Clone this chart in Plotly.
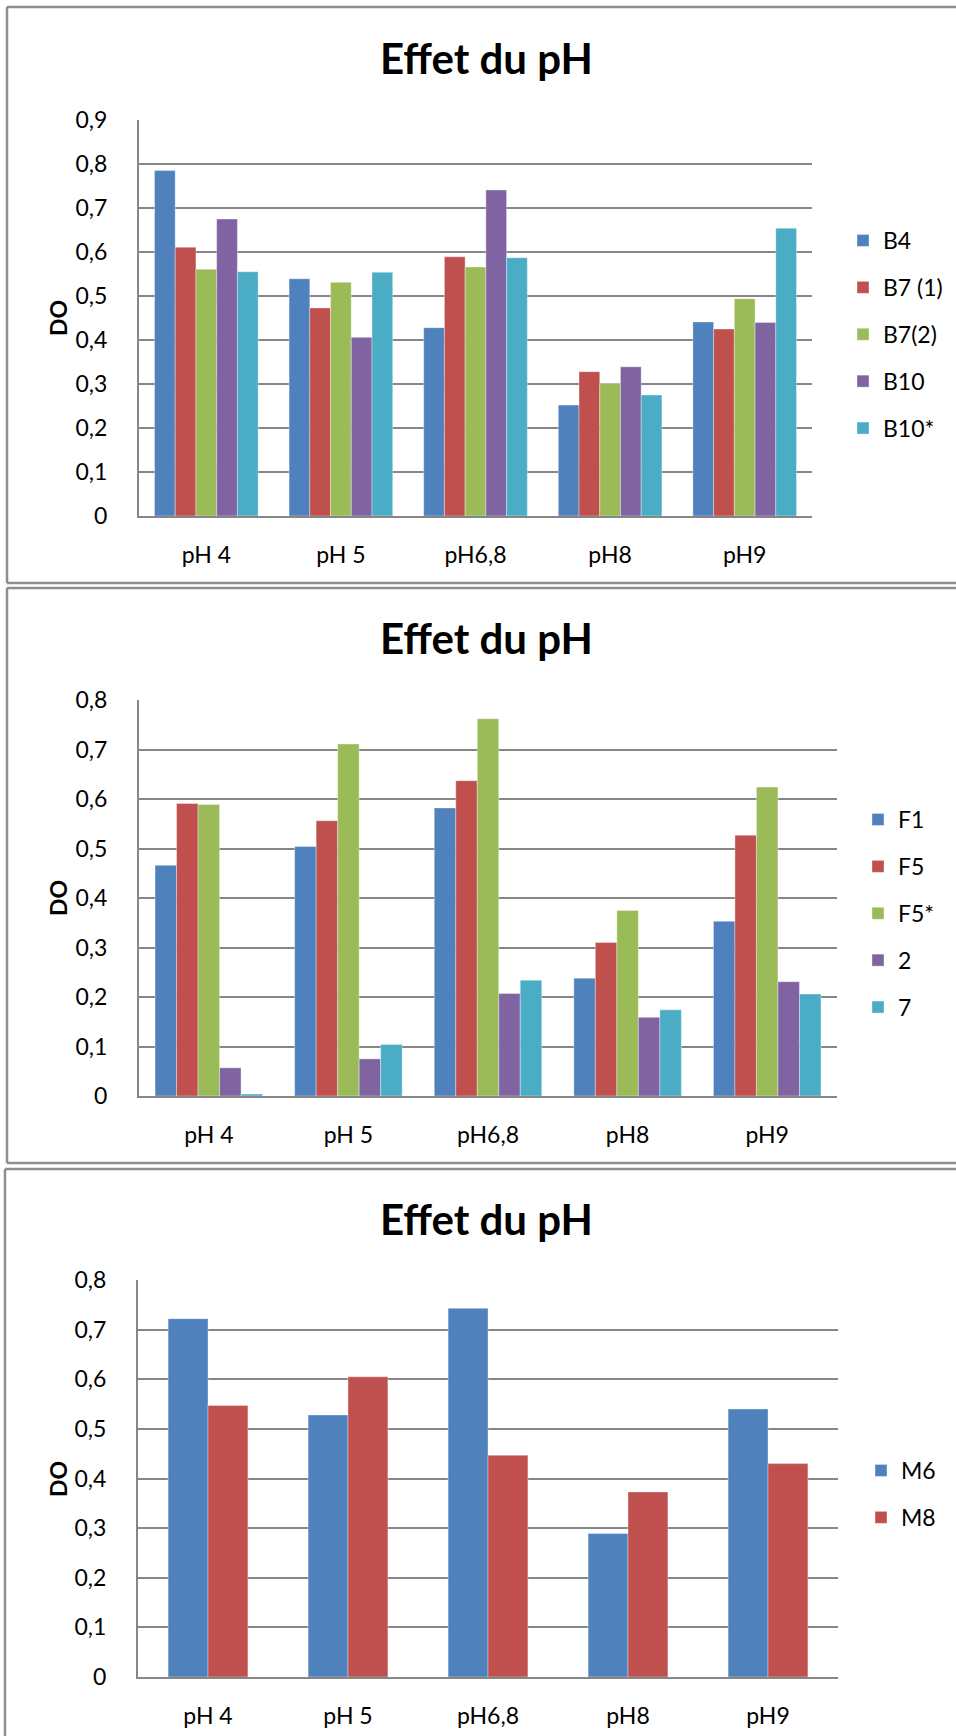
import plotly.graph_objects as go

W, H = 956, 1736

categories = ["pH 4", "pH 5", "pH6,8", "pH8", "pH9"]

# Panel 1
p1_names = ["B4", "B7 (1)", "B7(2)", "B10", "B10*"]
B4 = [0.785, 0.539, 0.428, 0.252, 0.441]
B7_1 = [0.611, 0.473, 0.589, 0.328, 0.425]
B7_2 = [0.561, 0.531, 0.566, 0.301, 0.494]
B10 = [0.675, 0.406, 0.741, 0.339, 0.440]
B10s = [0.555, 0.554, 0.587, 0.275, 0.654]

# Panel 2
p2_names = ["F1", "F5", "F5*", "2", "7"]
F1 = [0.466, 0.504, 0.582, 0.238, 0.353]
F5 = [0.591, 0.556, 0.637, 0.310, 0.527]
F5s = [0.589, 0.711, 0.762, 0.375, 0.624]
S2 = [0.057, 0.075, 0.207, 0.159, 0.231]
S7 = [0.004, 0.104, 0.234, 0.174, 0.206]

# Panel 3
p3_names = ["M6", "M8"]
M6 = [0.722, 0.528, 0.743, 0.289, 0.540]
M8 = [0.547, 0.605, 0.447, 0.373, 0.430]

colors5 = ["#4F81BD", "#C0504D", "#9BBB59", "#8064A2", "#4BACC6"]

title_text = "Effet du pH"
ylabel = "DO"

FONT = "Lato"
GRID = "#868686"
BORDER = "#8E8E8E"


def px(x):
    return x / W


def py(y):
    return 1 - y / H


fig = go.Figure()

panels = [
    dict(names=p1_names, series=[B4, B7_1, B7_2, B10, B10s], x=(139, 812), y=(516, 120), ymax=0.9,
         legend=dict(x=843, y=219), title_y=58, label_y=318),
    dict(names=p2_names, series=[F1, F5, F5s, S2, S7], x=(139, 837), y=(1096, 700), ymax=0.8,
         legend=dict(x=858, y=798), title_y=638, label_y=898),
    dict(names=p3_names, series=[M6, M8], x=(138, 838), y=(1677, 1280), ymax=0.8,
         legend=dict(x=861, y=1449), title_y=1219, label_y=1479),
]

# panel frames: (left, top, bottom) — right side runs off the picture
frames = [(7, 7, 583), (7, 588, 1163), (5, 1169, None)]

for i, p in enumerate(panels):
    n = i + 1
    xa = "x" if n == 1 else f"x{n}"
    ya = "y" if n == 1 else f"y{n}"
    lg = "legend" if n == 1 else f"legend{n}"
    k = len(p["series"])
    group = 0.77 if k > 2 else 0.57
    bw = group / k
    for j, (name, vals) in enumerate(zip(p["names"], p["series"])):
        fig.add_trace(go.Bar(
            x=categories, y=vals, name=name,
            marker=dict(color=colors5[j], line=dict(width=0.6, color="rgba(255,255,255,0.6)")),
            width=bw, offset=-group / 2 + j * bw,
            xaxis=xa, yaxis=ya, legend=lg, legendgroup=f"{n}_{j}",
        ))
    xkey = "xaxis" if n == 1 else f"xaxis{n}"
    ykey = "yaxis" if n == 1 else f"yaxis{n}"
    fig.update_layout(**{
        xkey: dict(domain=[px(p["x"][0]), px(p["x"][1])], anchor=ya, showgrid=False,
                   showline=True, linecolor=GRID, linewidth=2, ticks="",
                   tickfont=dict(family=FONT, size=23, color="black"), ticklabelstandoff=17,
                   fixedrange=True, automargin=False),
        ykey: dict(domain=[py(p["y"][0]), py(p["y"][1])], anchor=xa, range=[0, p["ymax"]],
                   dtick=0.1, tick0=0, showgrid=True, gridcolor=GRID, gridwidth=1.8,
                   showline=True, linecolor=GRID, linewidth=2, ticks="", zeroline=False,
                   tickfont=dict(family=FONT, size=23, color="black"), ticklabelstandoff=25,
                   fixedrange=True, automargin=False),
        lg: dict(x=px(p["legend"]["x"]), y=py(p["legend"]["y"]), xanchor="left", yanchor="top",
                 font=dict(family=FONT, size=23, color="black"), tracegroupgap=14,
                 bgcolor="rgba(0,0,0,0)", itemclick=False),
    })
    fig.add_annotation(x=px(486), y=py(p["title_y"]), xref="paper", yref="paper", text=f"<b>{title_text}</b>",
                       showarrow=False, font=dict(family=FONT, size=42, color="black"),
                       xanchor="center", yanchor="middle")
    fig.add_annotation(x=px(58), y=py(p["label_y"]), xref="paper", yref="paper", text=f"<b>{ylabel}</b>",
                       showarrow=False, textangle=-90, font=dict(family=FONT, size=23, color="black"),
                       xanchor="center", yanchor="middle")

line = dict(color=BORDER, width=2.5)
for (x0, y0, y1) in frames:
    fig.add_shape(type="line", xref="paper", yref="paper", x0=px(x0), y0=py(y0), x1=1, y1=py(y0), line=line)
    if y1 is not None:
        fig.add_shape(type="line", xref="paper", yref="paper", x0=px(x0), y0=py(y1), x1=1, y1=py(y1), line=line)
        fig.add_shape(type="line", xref="paper", yref="paper", x0=px(x0), y0=py(y0), x1=px(x0), y1=py(y1), line=line)
    else:
        fig.add_shape(type="line", xref="paper", yref="paper", x0=px(x0), y0=py(y0), x1=px(x0), y1=0, line=line)

fig.update_layout(
    width=W, height=H, margin=dict(l=0, r=0, t=0, b=0, pad=0, autoexpand=False),
    paper_bgcolor="white", plot_bgcolor="white",
    separators=", ", barmode="group", showlegend=True,
    font=dict(family=FONT, color="black"),
)

fig.write_html("out.html", config={"displayModeBar": False},
               post_script="document.body.style.margin='0';")
